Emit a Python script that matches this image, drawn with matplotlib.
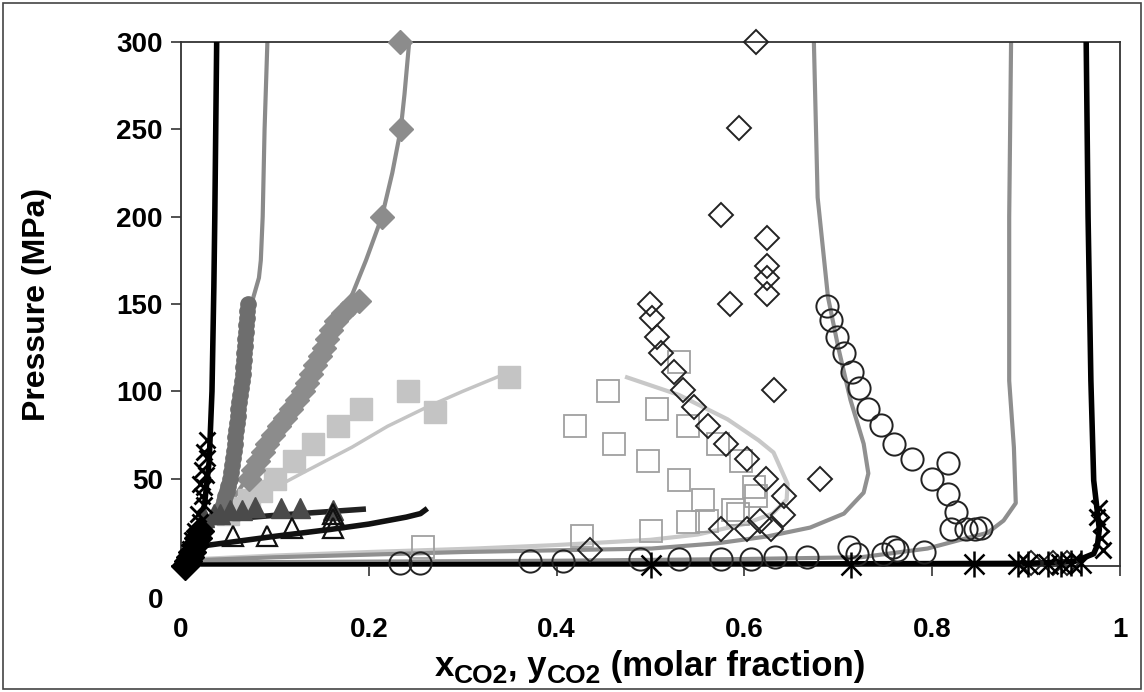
import numpy as np
import matplotlib
matplotlib.use("Agg")
import matplotlib.pyplot as plt
from matplotlib.transforms import ScaledTranslation
from matplotlib.patches import Rectangle

plt.rcParams['font.family'] = ['Liberation Sans', 'DejaVu Sans']

# ---- data (x = CO2 molar fraction, P in MPa) ----
# dark grey filled circles + grey model line
circ_dk_x = [0.071, 0.070, 0.070, 0.069, 0.069, 0.068, 0.068, 0.067, 0.067, 0.066, 0.066,
             0.065, 0.064, 0.063, 0.062, 0.061, 0.061, 0.060, 0.059, 0.058, 0.057, 0.056,
             0.055, 0.054, 0.053, 0.052, 0.050, 0.049, 0.047, 0.046, 0.044, 0.043, 0.042]
circ_dk_p = [150, 146, 142, 138, 134, 130, 126, 122, 118, 114, 110,
             106, 102, 98, 94, 90, 86, 82, 78, 74, 70, 66,
             62, 58, 54, 50, 46, 43, 40, 37, 34, 32, 30]
line_circ_dk_x = [0.092, 0.089, 0.087, 0.085, 0.083, 0.075, 0.068, 0.060, 0.050, 0.040, 0.025, 0.010, 0.0]
line_circ_dk_p = [300, 250, 200, 175, 165, 150, 120, 80, 50, 30, 15, 5, 0]

# black thick model line (left)
line_blk_l_x = [0.038, 0.037, 0.036, 0.035, 0.033, 0.030, 0.025, 0.018, 0.010, 0.0]
line_blk_l_p = [300, 250, 200, 160, 100, 60, 35, 20, 8, 0]

# grey filled diamonds + line
dia_gr_x = [0.233, 0.234, 0.214, 0.190, 0.182, 0.172, 0.165, 0.160, 0.156, 0.152, 0.148, 0.143,
            0.138, 0.134, 0.130, 0.124, 0.117, 0.111, 0.104, 0.098, 0.092, 0.087, 0.082,
            0.077, 0.072]
dia_gr_p = [300, 250, 200, 152, 150, 145, 140, 135, 130, 125, 120, 115,
            110, 105, 100, 95, 90, 85, 80, 75, 70, 65, 60,
            55, 50]
line_dia_gr_x = [0.243, 0.238, 0.234, 0.225, 0.214, 0.197, 0.182, 0.165, 0.150, 0.130,
                 0.110, 0.090, 0.070, 0.055, 0.040, 0.020, 0.0]
line_dia_gr_p = [300, 270, 250, 225, 200, 175, 155, 140, 125, 105,
                 87, 68, 50, 38, 28, 15, 0]

# light grey filled squares + line
sq_lt_x = [0.349, 0.271, 0.242, 0.192, 0.167, 0.141, 0.120, 0.100, 0.085, 0.072, 0.060, 0.050]
sq_lt_p = [108, 88, 100, 90, 80, 70, 60, 50, 43, 38, 33, 30]
line_sq_lt_x = [0.345, 0.300, 0.262, 0.220, 0.182, 0.132, 0.090, 0.060, 0.040]
line_sq_lt_p = [110, 100, 91, 80, 68, 54, 42, 33, 25]

# dark grey filled triangles + black line
tri_dk_x = [0.025, 0.035, 0.042, 0.052, 0.065, 0.079, 0.106, 0.127, 0.162]
tri_dk_p = [28, 30, 30, 32, 32, 34, 33, 33, 32]
line_tri_dk_x = [0.030, 0.100, 0.194]
line_tri_dk_p = [26, 29, 32.5]

# open triangles + black line
tri_op_x = [0.055, 0.092, 0.118, 0.162, 0.162, 0.162]
tri_op_p = [17, 17, 22, 22, 27, 30]
line_tri_op_x = [0.030, 0.100, 0.160, 0.200, 0.240, 0.255, 0.260]
line_tri_op_p = [12, 17, 21, 24, 28, 30, 32]

# black x crosses (left and right)
xmk_x = [0.028, 0.025, 0.028, 0.022, 0.027, 0.020, 0.025, 0.022, 0.025, 0.018, 0.020, 0.015,
         0.012, 0.010, 0.978, 0.975, 0.980, 0.980, 0.982]
xmk_p = [72, 65, 62, 55, 52, 47, 45, 40, 35, 30, 25, 20,
         15, 10, 33, 28, 24, 16, 9]

# black filled diamonds near origin
dia_blk_x = [0.004, 0.007, 0.010, 0.012, 0.015, 0.018, 0.020]
dia_blk_p = [0, 3, 5, 8, 12, 16, 20]

# open squares + light grey envelope
sq_op_x = [0.258, 0.427, 0.420, 0.455, 0.461, 0.497, 0.500, 0.507, 0.530, 0.530, 0.540,
           0.540, 0.556, 0.560, 0.572, 0.588, 0.596, 0.610, 0.612, 0.593]
sq_op_p = [11, 17, 80, 100, 70, 60, 20, 90, 117, 49, 80,
           25, 38, 26, 70, 32, 60, 45, 40, 30]
line_sq_op_x = [0.475, 0.530, 0.582, 0.615, 0.631, 0.646, 0.645, 0.630, 0.600, 0.550, 0.500,
                0.400, 0.313, 0.200, 0.100, 0.020]
line_sq_op_p = [108, 98, 84, 72, 65, 47, 38, 30, 24, 18, 15,
                12, 10, 8, 6, 4]

# open diamonds
dia_op_x = [0.612, 0.594, 0.575, 0.624, 0.624, 0.624, 0.624, 0.585, 0.499, 0.502, 0.507,
            0.511, 0.525, 0.535, 0.546, 0.561, 0.580, 0.603, 0.623, 0.642, 0.641, 0.628,
            0.617, 0.603, 0.575, 0.632, 0.681, 0.436, 0.905, 0.929, 0.944]
dia_op_p = [300, 251, 201, 188, 172, 165, 156, 150, 150, 142, 131,
            122, 111, 101, 91, 80, 70, 61, 50, 40, 29, 21,
            26, 21, 21, 101, 50, 9, 2, 2, 2]

# grey model line (x ~ 0.7)
line_mid_x = [0.674, 0.678, 0.689, 0.700, 0.713, 0.727, 0.732, 0.727, 0.706, 0.670, 0.625,
              0.571, 0.501, 0.300, 0.100, 0.0]
line_mid_p = [300, 211, 154, 125, 95, 70, 53, 42, 30, 22, 17,
              13, 10, 8, 5, 3]

# open circles
circ_op_x = [0.688, 0.692, 0.699, 0.706, 0.715, 0.722, 0.732, 0.745, 0.759, 0.779, 0.800,
             0.817, 0.817, 0.825, 0.820, 0.836, 0.846, 0.852,
             0.233, 0.255, 0.372, 0.407, 0.489, 0.530, 0.575, 0.607, 0.633, 0.667,
             0.711, 0.720, 0.748, 0.758, 0.763, 0.791]
circ_op_p = [149, 141, 131, 122, 111, 102, 90, 81, 70, 61, 50,
             59, 41, 31, 21, 21, 21, 22,
             2, 2, 3, 3, 4, 4, 4, 4, 5, 5,
             11, 7, 7, 11, 9, 8]

# grey model line (x ~ 0.88)
line_hi_x = [0.884, 0.882, 0.882, 0.887, 0.889, 0.876, 0.859, 0.830, 0.795, 0.724, 0.600,
             0.400, 0.200, 0.0]
line_hi_p = [300, 200, 106, 68, 36, 26, 19, 15, 10, 5, 4,
             3, 2.5, 2]

# black thick model line (right) + asterisks
line_blk_r_x = [0.964, 0.966, 0.969, 0.972, 0.978, 0.976, 0.972, 0.951, 0.900, 0.500, 0.0]
line_blk_r_p = [300, 200, 106, 49, 21, 12, 7, 2.5, 1.5, 1, 0.5]
ast_x = [0.500, 0.713, 0.844, 0.891, 0.902, 0.923, 0.937, 0.948, 0.958]
ast_p = [0.5, 0.5, 1, 1, 1, 1, 1, 1.5, 2]

x_ticks = [0, 0.2, 0.4, 0.6, 0.8, 1]
x_tick_labels = ['0', '0.2', '0.4', '0.6', '0.8', '1']
y_ticks = [0, 50, 100, 150, 200, 250, 300]

W, H = 1144, 692
fig = plt.figure(figsize=(W / 100, H / 100), dpi=100)
fig.patches.append(Rectangle((0.003, 0.004), 0.994, 0.992, transform=fig.transFigure,
                             fill=False, ec='#444444', lw=1.2))
ax = fig.add_axes([181 / W, 1 - 566 / H, 939 / W, 524 / H])

# model lines
ax.plot(line_sq_op_x, line_sq_op_p, color='#c8c8c8', lw=3, zorder=2)
ax.plot(line_hi_x, line_hi_p, color='#8e8e8e', lw=3, zorder=2)
ax.plot(line_mid_x, line_mid_p, color='#909090', lw=3, zorder=2)
ax.plot(line_blk_r_x, line_blk_r_p, color='black', lw=4, zorder=3)
ax.plot(line_circ_dk_x, line_circ_dk_p, color='#8a8a8a', lw=3, zorder=2)
ax.plot(line_blk_l_x, line_blk_l_p, color='black', lw=4, zorder=3)
ax.plot(line_dia_gr_x, line_dia_gr_p, color='#8c8c8c', lw=3, zorder=2)
ax.plot(line_sq_lt_x, line_sq_lt_p, color='#c4c4c4', lw=2.5, zorder=2)
ax.plot(line_tri_dk_x, line_tri_dk_p, color='#222222', lw=4, zorder=3)
ax.plot(line_tri_op_x, line_tri_op_p, color='#111111', lw=4, zorder=3)

# experimental points (not clipped, as in the original where they overlap the axis)
mk = dict(clip_on=False, linestyle='none')
ax.plot(sq_op_x, sq_op_p, 's', ms=16, mfc='none', mec='#a0a0a0', mew=1.3, zorder=4, **mk)
ax.plot(circ_op_x, circ_op_p, 'o', ms=16, mfc='none', mec='#222222', mew=1.4, zorder=4, **mk)
ax.plot(dia_op_x, dia_op_p, 'D', ms=12, mfc='none', mec='#222222', mew=1.4, zorder=5, **mk)
ax.plot(sq_lt_x, sq_lt_p, 's', ms=16, color='#c4c4c4', zorder=4, **mk)
ax.plot(dia_gr_x, dia_gr_p, 'D', ms=12, color='#8c8c8c', zorder=4, **mk)
ax.plot(circ_dk_x, circ_dk_p, 'o', ms=11, color='#6e6e6e', zorder=4, **mk)
ax.plot(tri_dk_x, tri_dk_p, '^', ms=14, color='#4a4a4a', zorder=4, **mk)
ax.plot(tri_op_x, tri_op_p, '^', ms=15, mfc='none', mec='#111111', mew=1.6, zorder=5, **mk)
ax.plot(xmk_x, xmk_p, 'x', ms=12, color='black', mew=2, zorder=5, **mk)
ax.plot(ast_x, ast_p, 'x', ms=15, color='black', mew=1.8, zorder=5, **mk)
ax.plot(ast_x, ast_p, '|', ms=19, color='black', mew=1.8, zorder=5, **mk)
ax.plot(dia_blk_x, dia_blk_p, 'D', ms=14, color='black', zorder=6, **mk)

ax.set_xlim(0, 1)
ax.set_ylim(0, 300)
ax.set_xticks(x_ticks)
ax.set_xticklabels(x_tick_labels)
ax.set_yticks(y_ticks)
for sp in ax.spines.values():
    sp.set_color('#333333')
    sp.set_linewidth(1.3)

ax.tick_params(axis='x', direction='out', length=7, width=1.2, pad=30,
               labelsize=20, color='#333333')
ax.tick_params(axis='y', direction='out', length=7, width=1.2, pad=6,
               labelsize=20, color='#333333')
for lab in ax.get_xticklabels() + ax.get_yticklabels():
    lab.set_fontweight('bold')

# the "0" of the pressure axis sits lower in the original
zero_lab = ax.yaxis.get_major_ticks()[0].label1
zero_lab.set_transform(zero_lab.get_transform() + ScaledTranslation(0, -32 / 100, fig.dpi_scale_trans))

ax.set_ylabel('Pressure (MPa)', fontsize=23, fontweight='bold')
ax.yaxis.set_label_coords(-0.137, 0.5)

# x axis title built piece by piece so the subscripts keep a larger size
renderer = fig.canvas.get_renderer()
pieces = [('x', 25, 0), ('CO2', 19, -7), (', y', 25, 0), ('CO2', 19, -7),
          (' (molar fraction)', 25, 0)]
texts = []
for s, size, dy in pieces:
    t = fig.text(0, 0, s, fontsize=size, fontweight='bold', ha='left', va='baseline')
    texts.append((t, t.get_window_extent(renderer).width, dy))
total = sum(w for _, w, _ in texts)
x_px = 650 - total / 2
base_px = H - 676
for t, w, dy in texts:
    t.set_position((x_px / W, (base_px + dy) / H))
    x_px += w

fig.savefig('out.png', dpi=100)
